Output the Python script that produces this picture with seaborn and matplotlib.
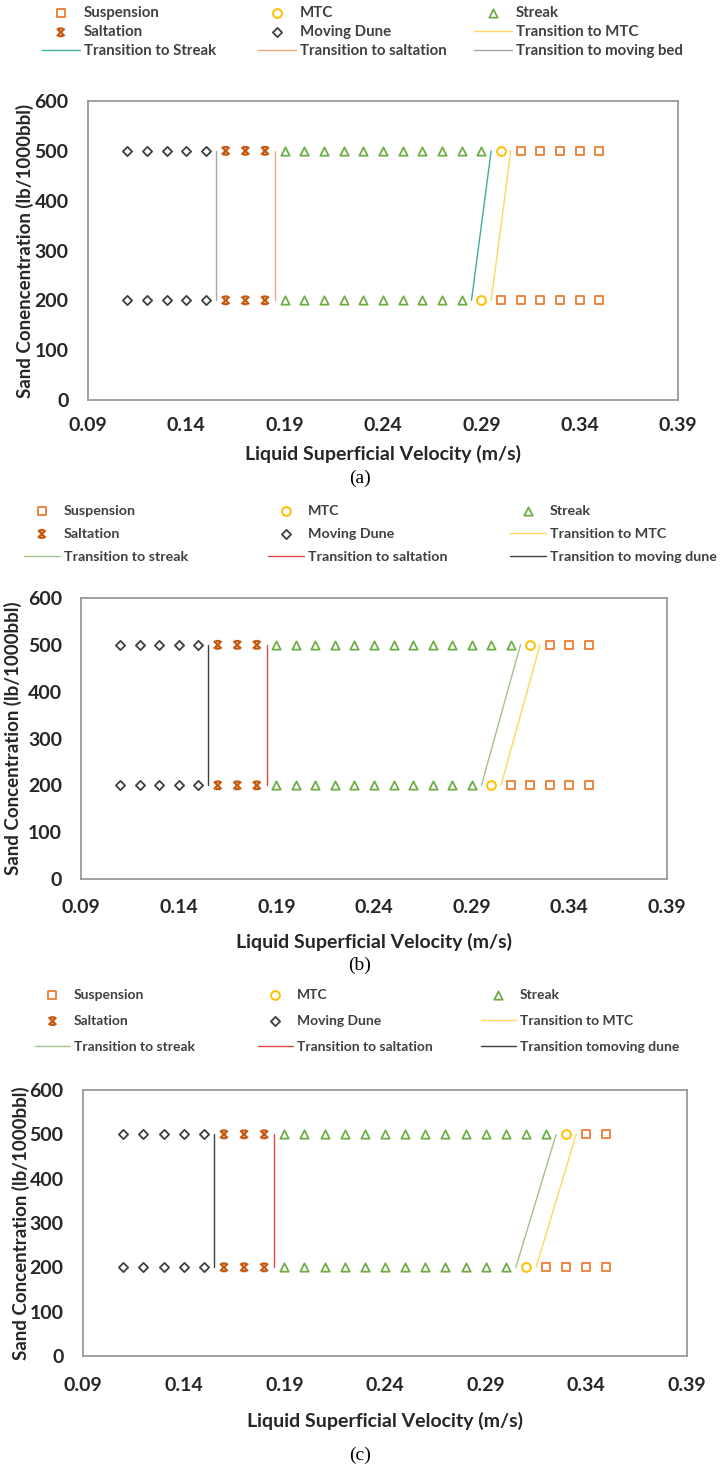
import matplotlib
matplotlib.use("Agg")
import matplotlib.pyplot as plt
from matplotlib.path import Path
import pandas as pd
import seaborn as sns

# concentrations tested
conc = [200, 500]

# ---- panel (a)
a_dune_x = [0.11, 0.12, 0.13, 0.14, 0.15]
a_salt_x = [0.16, 0.17, 0.18]
a_streak_200 = [0.19, 0.20, 0.21, 0.22, 0.23, 0.24, 0.25, 0.26, 0.27, 0.28]
a_streak_500 = [0.19, 0.20, 0.21, 0.22, 0.23, 0.24, 0.25, 0.26, 0.27, 0.28, 0.29]
a_mtc = [0.29, 0.30]
a_susp_200 = [0.30, 0.31, 0.32, 0.33, 0.34, 0.35]
a_susp_500 = [0.31, 0.32, 0.33, 0.34, 0.35]
a_tr_streak = [0.285, 0.295]
a_tr_mtc = [0.295, 0.305]
a_tr_salt = [0.185, 0.185]
a_tr_dune = [0.155, 0.155]

# ---- panel (b)
b_dune_x = [0.11, 0.12, 0.13, 0.14, 0.15]
b_salt_x = [0.16, 0.17, 0.18]
b_streak_200 = [0.19, 0.20, 0.21, 0.22, 0.23, 0.24, 0.25, 0.26, 0.27, 0.28, 0.29]
b_streak_500 = [0.19, 0.20, 0.21, 0.22, 0.23, 0.24, 0.25, 0.26, 0.27, 0.28, 0.29, 0.30, 0.31]
b_mtc = [0.30, 0.32]
b_susp_200 = [0.31, 0.32, 0.33, 0.34, 0.35]
b_susp_500 = [0.33, 0.34, 0.35]
b_tr_streak = [0.295, 0.315]
b_tr_mtc = [0.305, 0.325]
b_tr_salt = [0.185, 0.185]
b_tr_dune = [0.155, 0.155]

# ---- panel (c)
c_dune_x = [0.11, 0.12, 0.13, 0.14, 0.15]
c_salt_x = [0.16, 0.17, 0.18]
c_streak_200 = [0.19, 0.20, 0.21, 0.22, 0.23, 0.24, 0.25, 0.26, 0.27, 0.28, 0.29, 0.30]
c_streak_500 = [0.19, 0.20, 0.21, 0.22, 0.23, 0.24, 0.25, 0.26, 0.27, 0.28, 0.29, 0.30, 0.31, 0.32]
c_mtc = [0.31, 0.33]
c_susp_200 = [0.32, 0.33, 0.34, 0.35]
c_susp_500 = [0.34, 0.35]
c_tr_streak = [0.305, 0.325]
c_tr_mtc = [0.315, 0.335]
c_tr_salt = [0.185, 0.185]
c_tr_dune = [0.155, 0.155]

x_ticks = [0.09, 0.14, 0.19, 0.24, 0.29, 0.34, 0.39]
y_ticks = [0, 100, 200, 300, 400, 500, 600]

sns.set_theme(style="white")
plt.rcParams['font.family'] = ['Lato', 'DejaVu Sans']

W, H = 720, 1469
fig = plt.figure(figsize=(W / 100, H / 100), dpi=100)

TXT = "#404040"
# excel "star" marker: an x with short caps top and bottom
STAR = Path([(-1, -1), (1, 1), (-1, 1), (1, -1), (-0.6, 1), (0.6, 1), (-0.6, -1), (0.6, -1)],
            [Path.MOVETO, Path.LINETO] * 4)


def frac_box(l, r, t, b):
    return [l / W, 1 - b / H, (r - l) / W, (b - t) / H]


def points(ax, xs200, xs500, marker, color, size, lw, label):
    df = pd.DataFrame({"x": list(xs200) + list(xs500),
                       "y": [conc[0]] * len(xs200) + [conc[1]] * len(xs500)})
    sns.scatterplot(data=df, x="x", y="y", ax=ax, marker=marker, s=size,
                    facecolor="white" if marker is not STAR else "none",
                    edgecolor=color, linewidth=lw, label=label, zorder=3)


def trans(ax, xs, color, label):
    df = pd.DataFrame({"x": xs, "y": conc})
    sns.lineplot(data=df, x="x", y="y", ax=ax, sort=False, estimator=None,
                 color=color, linewidth=1.0, label=label, zorder=2)


panels = [
    dict(box=(88, 678, 101, 400), dune=a_dune_x, salt=a_salt_x,
         st200=a_streak_200, st500=a_streak_500, mtc=a_mtc,
         su200=a_susp_200, su500=a_susp_500,
         tr=[a_tr_streak, a_tr_mtc, a_tr_salt, a_tr_dune],
         tcol=["#3fae9f", "#ffd75e", "#f4a77c", "#a6a6a6"],
         tlab=["Transition to Streak", "Transition to saltation", "Transition to moving bed"],
         ylab="Sand Conencentration (lb/1000bbl)", ylx=25, legfs=10.8,
         leg_rows=(13, 31, 50), leg_cols=(84, 300, 516), cap="(a)", capy=478,
         xly=454, xpad=12, ypad=14),
    dict(box=(81, 667, 598, 879), dune=b_dune_x, salt=b_salt_x,
         st200=b_streak_200, st500=b_streak_500, mtc=b_mtc,
         su200=b_susp_200, su500=b_susp_500,
         tr=[b_tr_streak, b_tr_mtc, b_tr_salt, b_tr_dune],
         tcol=["#a3c290", "#ffd75e", "#e0474c", "#404040"],
         tlab=["Transition to streak", "Transition to saltation", "Transition to moving dune"],
         ylab="Sand Concentration (lb/1000bbl)", ylx=13, legfs=10.3,
         leg_rows=(511, 534, 559), leg_cols=(64, 308, 550), cap="(b)", capy=965,
         xly=942, xpad=14.5, ypad=13.5),
    dict(box=(83, 687, 1090, 1356), dune=c_dune_x, salt=c_salt_x,
         st200=c_streak_200, st500=c_streak_500, mtc=c_mtc,
         su200=c_susp_200, su500=c_susp_500,
         tr=[c_tr_streak, c_tr_mtc, c_tr_salt, c_tr_dune],
         tcol=["#a3c290", "#ffd75e", "#e0474c", "#404040"],
         tlab=["Transition to streak", "Transition to saltation", "Transition tomoving dune"],
         ylab="Sand Concentration (lb/1000bbl)", ylx=21, legfs=10.0,
         leg_rows=(995, 1022, 1048), leg_cols=(74, 297, 520), cap="(c)", capy=1455,
         xly=1421, xpad=15, ypad=14),
]

for p in panels:
    ax = fig.add_axes(frac_box(*p["box"]))
    points(ax, p["su200"], p["su500"], "s", "#ed7d31", 32, 1.3, "Suspension")
    points(ax, [p["mtc"][0]], [p["mtc"][1]], "o", "#ffc000", 40, 1.4, "MTC")
    points(ax, p["st200"], p["st500"], "^", "#70ad47", 36, 1.3, "Streak")
    points(ax, p["salt"], p["salt"], STAR, "#c55a11", 30, 1.6, "Saltation")
    points(ax, p["dune"], p["dune"], "D", "#404040", 22, 1.3, "Moving Dune")
    trans(ax, p["tr"][1], p["tcol"][1], "Transition to MTC")
    trans(ax, p["tr"][0], p["tcol"][0], p["tlab"][0])
    trans(ax, p["tr"][2], p["tcol"][2], p["tlab"][1])
    trans(ax, p["tr"][3], p["tcol"][3], p["tlab"][2])

    ax.set_xlim(0.09, 0.39)
    ax.set_ylim(0, 600)
    ax.set_xticks(x_ticks)
    ax.set_xticklabels([f"{v:.2f}" for v in x_ticks])
    ax.set_yticks(y_ticks)
    ax.tick_params(length=0, labelsize=14, labelcolor="#262626")
    ax.tick_params(axis="x", pad=p["xpad"])
    ax.tick_params(axis="y", pad=p["ypad"])
    for lab in ax.get_xticklabels() + ax.get_yticklabels():
        lab.set_fontweight("bold")
    for sp in ax.spines.values():
        sp.set_color("#9a9a9a")
        sp.set_linewidth(1.3)
    ax.set_xlabel("")
    ax.set_ylabel("")
    fig.text(sum(p["box"][:2]) / 2 / W, 1 - p["xly"] / H,
             "Liquid Superficial Velocity (m/s)", ha="center", va="center",
             fontsize=14, fontweight="bold", color="#262626")
    fig.text(p["ylx"] / W, 1 - (p["box"][2] + p["box"][3]) / 2 / H, p["ylab"],
             rotation=90, ha="center", va="center", fontsize=13.5,
             fontweight="bold", color="#262626")
    fig.text(0.5, 1 - p["capy"] / H, p["cap"], ha="center", va="center",
             fontsize=14, family="Liberation Serif", color="black")

    handles, labels = ax.get_legend_handles_labels()
    ax.get_legend().remove()
    hmap = dict(zip(labels, handles))
    cols = [["Suspension", "Saltation", p["tlab"][0]],
            ["MTC", "Moving Dune", p["tlab"][1]],
            ["Streak", "Transition to MTC", p["tlab"][2]]]
    fs = p["legfs"]
    fpx = fs * 100 / 72
    row_gap = (p["leg_rows"][2] - p["leg_rows"][0]) / 2
    for cx, names in zip(p["leg_cols"], cols):
        leg = fig.legend([hmap[n] for n in names], names, loc="upper left",
                         bbox_to_anchor=((cx - 2.8 * fpx) / W, 1 - (p["leg_rows"][0] - fpx * 0.45) / H),
                         frameon=False, fontsize=fs, handlelength=2.5,
                         handletextpad=0.3, borderpad=0, borderaxespad=0,
                         labelspacing=(row_gap - 0.9 * fpx) / fpx)
        for t in leg.get_texts():
            t.set_color(TXT)
            t.set_fontweight("bold")

fig.savefig("out.png", dpi=100)
